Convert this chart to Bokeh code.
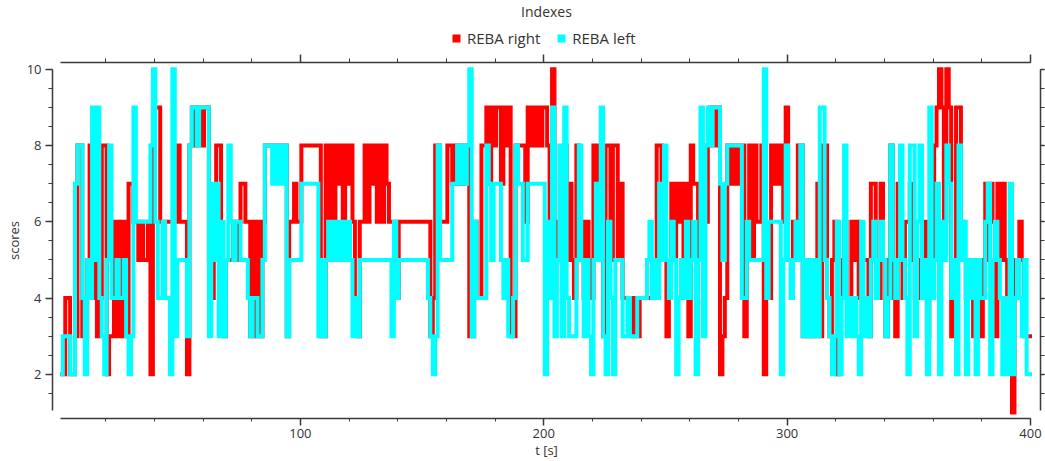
import numpy as np
from bokeh.plotting import figure
from bokeh.layouts import column
from bokeh.models import (Range1d, LinearAxis, SingleIntervalTicker, Legend, LegendItem,
                          CustomJSTickFormatter, Label)
from bokeh.embed import file_html
from bokeh.resources import INLINE

# REBA scores, one sample per second
reba_right = [
    2, 2, 4, 4, 2, 2, 3, 8, 8, 3,   3, 5, 8, 4, 5, 3, 4, 8, 8, 2,
    3, 3, 6, 3, 6, 3, 6, 3, 7, 7,   6, 6, 5, 6, 5, 5, 6, 2, 9, 9,
    9, 6, 6, 6, 6, 6, 6, 6, 8, 6,   6, 6, 2, 8, 9, 8, 9, 9, 8, 9,
    9, 5, 4, 6, 8, 8, 4, 3, 5, 5,   5, 6, 5, 6, 7, 7, 6, 6, 3, 6,
    3, 6, 3, 6, 8, 8, 8, 8, 8, 8,   8, 8, 8, 3, 6, 6, 7, 6, 6, 8,
    8, 8, 8, 8, 8, 8, 8, 3, 3, 8,   6, 8, 6, 8, 7, 8, 6, 8, 7, 8,
    6, 4, 3, 6, 6, 8, 6, 8, 7, 8,   6, 8, 6, 8, 7, 6, 6, 6, 4, 6,
    6, 6, 6, 6, 6, 6, 6, 6, 6, 6,   6, 6, 3, 4, 8, 8, 6, 6, 6, 8,
    8, 7, 8, 7, 8, 7, 8, 8, 3, 3,   6, 4, 4, 8, 8, 9, 7, 9, 8, 9,
    9, 7, 9, 8, 9, 3, 3, 8, 8, 8,   8, 6, 9, 8, 9, 8, 9, 8, 9, 9,
    8, 6, 10, 5, 6, 5, 6, 8, 5, 7,  5, 4, 8, 6, 6, 4, 6, 5, 4, 8,
    7, 8, 5, 3, 8, 8, 5, 8, 8, 5,   7, 4, 4, 4, 4, 3, 4, 3, 4, 4,
    4, 4, 4, 5, 4, 8, 8, 7, 5, 3,   5, 7, 5, 7, 6, 7, 5, 7, 3, 8,
    7, 7, 5, 6, 6, 6, 8, 9, 9, 8,   9, 2, 3, 4, 8, 7, 8, 7, 8, 7,
    8, 3, 6, 8, 5, 8, 6, 6, 8, 2,   5, 4, 8, 7, 8, 7, 8, 6, 9, 5,
    5, 6, 5, 8, 8, 3, 5, 3, 5, 3,   5, 7, 3, 8, 8, 4, 3, 5, 6, 2,
    5, 4, 6, 4, 4, 6, 5, 6, 4, 5,   5, 5, 3, 7, 7, 5, 4, 7, 5, 3,
    5, 8, 4, 3, 7, 5, 4, 6, 6, 7,   5, 4, 5, 4, 4, 6, 3, 4, 5, 8,
    9, 10, 9, 6, 10, 9, 3, 4, 9, 9, 6, 5, 4, 5, 4, 3, 5, 4, 3, 5,
    7, 5, 7, 6, 3, 7, 5, 7, 5, 4,   4, 1, 5, 5, 6, 5, 3, 3, 3, 3,
]
reba_left = [
    2, 3, 3, 3, 2, 2, 7, 8, 8, 4,   2, 5, 4, 9, 5, 9, 4, 3, 2, 5,
    8, 4, 4, 5, 4, 4, 5, 3, 2, 3,   9, 6, 6, 6, 6, 6, 6, 8, 10, 6,
    4, 4, 6, 4, 4, 2, 10, 3, 5, 5,  5, 5, 3, 8, 9, 9, 8, 9, 9, 9,
    9, 3, 7, 5, 7, 3, 6, 3, 5, 8,   6, 5, 6, 6, 5, 5, 5, 4, 3, 4,
    4, 3, 3, 5, 8, 8, 8, 7, 8, 7,   8, 7, 8, 3, 5, 5, 5, 5, 5, 7,
    7, 7, 7, 7, 7, 7, 3, 5, 3, 5,   6, 5, 6, 5, 6, 5, 6, 5, 6, 5,
    3, 4, 3, 5, 5, 5, 5, 5, 5, 5,   5, 5, 5, 5, 5, 5, 3, 6, 4, 5,
    5, 5, 5, 5, 5, 5, 5, 5, 5, 5,   5, 4, 3, 2, 3, 8, 5, 5, 5, 5,
    5, 7, 7, 8, 7, 8, 7, 8, 10, 3,  6, 4, 4, 4, 4, 8, 7, 5, 7, 7,
    7, 5, 4, 5, 3, 3, 4, 8, 7, 7,   5, 5, 7, 7, 7, 7, 7, 7, 7, 2,
    6, 4, 9, 3, 5, 8, 3, 9, 4, 3,   3, 3, 5, 8, 5, 3, 5, 3, 2, 5,
    7, 5, 9, 3, 2, 6, 4, 2, 5, 5,   5, 3, 3, 4, 3, 3, 3, 4, 4, 4,
    4, 5, 6, 4, 5, 4, 7, 5, 8, 5,   4, 6, 5, 2, 4, 5, 4, 6, 4, 5,
    6, 2, 5, 9, 3, 8, 9, 8, 9, 9,   9, 7, 5, 7, 8, 8, 8, 8, 8, 8,
    4, 4, 6, 5, 5, 5, 5, 5, 5, 10,  4, 6, 6, 6, 6, 6, 2, 5, 8, 5,
    4, 5, 6, 5, 8, 3, 5, 3, 5, 3,   5, 3, 9, 9, 5, 4, 3, 2, 3, 6,
    2, 4, 8, 3, 4, 3, 4, 3, 2, 6,   3, 4, 3, 5, 6, 4, 5, 6, 5, 3,
    4, 8, 5, 4, 5, 8, 5, 4, 2, 8,   8, 3, 6, 8, 4, 5, 2, 9, 4, 5,
    7, 2, 6, 5, 8, 7, 4, 5, 2, 8,   5, 6, 2, 5, 4, 5, 2, 5, 4, 4,
    6, 7, 2, 5, 6, 5, 4, 2, 4, 2,   7, 2, 4, 5, 4, 3, 5, 2, 2, 2,
]
t_first = 1.4      # s, first sample
t_last_end = 400.6 # s, end of last sample

x_ticks_major = 100
y_ticks_major = 2

times = t_first + np.arange(len(reba_right), dtype=float)
xs = np.append(times, t_last_end)
yr = np.append(reba_right, reba_right[-1]).astype(float)
yl = np.append(reba_left, reba_left[-1]).astype(float)

FONT = "Open Sans"
TXT = "#333333"
AX = "#3a3a3a"
RED = "#ff0000"
CYAN = "#00ffff"
HEADER_H = 54

# ---------- main plot ----------
p = figure(width=1045, height=461 - HEADER_H, output_backend="svg", toolbar_location=None,
           x_range=Range1d(-1.85, 404.1), y_range=Range1d(0.84, 10.18),
           min_border_left=52, min_border_right=5, min_border_top=62 - HEADER_H,
           min_border_bottom=42)
p.outline_line_color = None
p.xgrid.visible = False
p.ygrid.visible = False

blank = CustomJSTickFormatter(code="return ''")

def style_axis(ax, major_out, minor_out, labels=True):
    ax.axis_line_color = AX
    ax.axis_line_width = 1.5
    ax.major_tick_line_color = AX
    ax.minor_tick_line_color = AX
    ax.major_tick_line_width = 1.5
    ax.minor_tick_line_width = 1
    ax.major_tick_in = 0
    ax.minor_tick_in = 0
    ax.major_tick_out = major_out
    ax.minor_tick_out = minor_out
    ax.major_label_text_font = FONT
    ax.major_label_text_font_size = "13px"
    ax.major_label_text_color = TXT
    ax.major_label_standoff = 3 if labels else 0
    ax.axis_label_text_font = FONT
    ax.axis_label_text_font_size = "13px"
    ax.axis_label_text_font_style = "normal"
    ax.axis_label_text_color = TXT
    ax.axis_label_standoff = 0
    if not labels:
        ax.formatter = blank
        ax.major_label_text_font_size = "0px"

xb = (t_first, 400)
yb = (1.05, 10)

xax = p.xaxis[0]
xax.ticker = SingleIntervalTicker(interval=x_ticks_major, num_minor_ticks=5)
xax.bounds = xb
xax.axis_label = "t [s]"
style_axis(xax, 7, 3)

yax = p.yaxis[0]
yax.ticker = SingleIntervalTicker(interval=y_ticks_major, num_minor_ticks=4)
yax.bounds = yb
yax.axis_label = "scores"
style_axis(yax, 7, 4)
yax.major_label_standoff = 4
yax.axis_label_standoff = 1

top = LinearAxis(ticker=SingleIntervalTicker(interval=x_ticks_major, num_minor_ticks=5), bounds=xb)
style_axis(top, 8, 4, labels=False)
p.add_layout(top, "above")

right = LinearAxis(ticker=SingleIntervalTicker(interval=y_ticks_major, num_minor_ticks=4), bounds=yb)
style_axis(right, 4, 4, labels=False)
p.add_layout(right, "right")

p.step(xs, yr, mode="after", line_color=RED, line_width=4, line_join="miter")
p.step(xs, yl, mode="after", line_color=CYAN, line_width=4, line_join="miter")

# ---------- header: title + legend (frame aligned with the plot frame) ----------
h = figure(width=1045, height=HEADER_H, output_backend="svg", toolbar_location=None,
           x_range=p.x_range, y_range=p.y_range,
           x_axis_location=None, y_axis_location=None,
           min_border_left=52, min_border_right=5, min_border_top=0, min_border_bottom=0)
h.outline_line_color = None
h.grid.visible = False

# zero-area swatch glyphs (legend only)
lr = h.quad(left=xs[:1], right=xs[:1], top=yr[:1], bottom=yr[:1], fill_color=RED, line_color=None)
ll = h.quad(left=xs[:1], right=xs[:1], top=yl[:1], bottom=yl[:1], fill_color=CYAN, line_color=None)

legend = Legend(items=[LegendItem(label="REBA right", renderers=[lr]),
                       LegendItem(label="REBA left", renderers=[ll])],
                orientation="horizontal", location=(399, 6),
                glyph_width=10, glyph_height=10, label_height=16, label_text_font=FONT,
                label_text_font_size="15px", label_text_color=TXT,
                border_line_color=None, background_fill_alpha=0,
                spacing=16, padding=2, margin=0, label_standoff=6)
h.add_layout(legend, "center")

h.add_layout(Label(x=494, y=HEADER_H - 11, x_units="screen", y_units="screen", text="Indexes",
                   text_font=FONT, text_font_size="14px", text_color=TXT,
                   text_align="center", text_baseline="middle"))

layout = column(h, p, spacing=0)
open("out.html", "w").write(file_html(layout, INLINE))
